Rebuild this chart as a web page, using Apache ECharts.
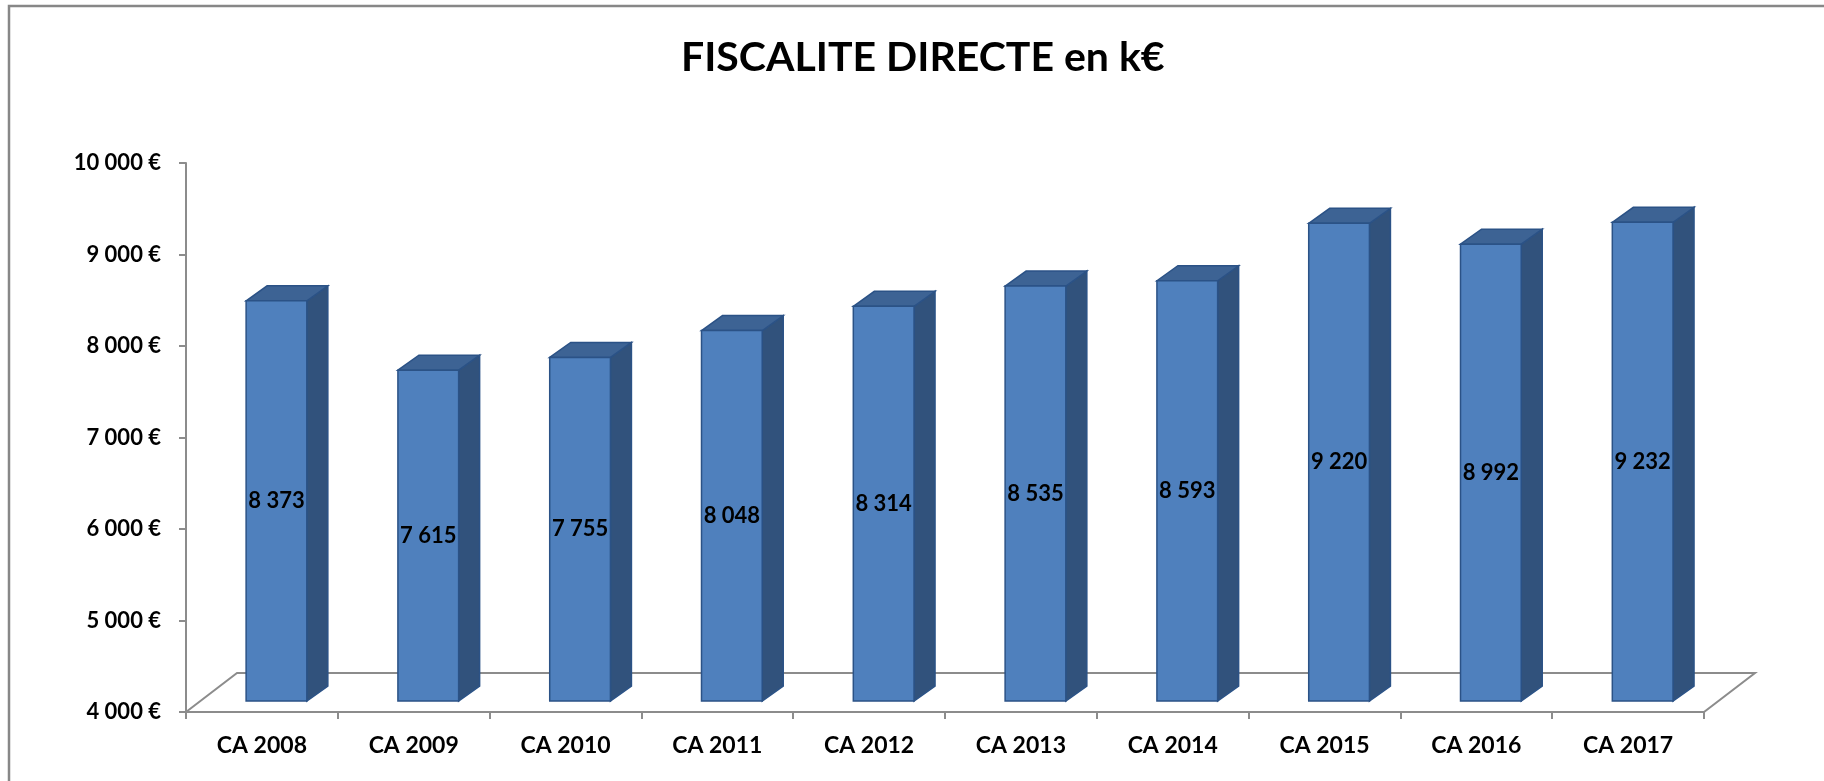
<!DOCTYPE html>
<html>
<head>
<meta charset="utf-8">
<script src="https://cdn.jsdelivr.net/npm/echarts@6/dist/echarts.min.js"></script>
<style>
  html, body { margin: 0; padding: 0; background: #fff; }
  #main { width: 1824px; height: 781px; }
</style>
</head>
<body>
<div id="main"></div>
<script>
var categories = ['CA 2008', 'CA 2009', 'CA 2010', 'CA 2011', 'CA 2012', 'CA 2013', 'CA 2014', 'CA 2015', 'CA 2016', 'CA 2017'];
var values = [8373, 7615, 7755, 8048, 8314, 8535, 8593, 9220, 8992, 9232];
var yMin = 4000, yMax = 10000, yStep = 1000;

function fmt(n){
	return String(n).replace(/\B(?=(\d{3})+(?!\d))/g, ' ');
}

var chart = echarts.init(document.getElementById('main'));
var font = 'Lato, "Open Sans", sans-serif';

// bars drawn as 3D boxes (front, top, side)
function renderBar(params, api){
	var i = api.value(0), v = api.value(1);
	var band = api.size([1, 0])[0];
	var top = api.coord([i, v]);
	var base = api.coord([i, yMin]);
	var lift = 11, w = band * 0.4, off = band * 0.096, dx = 21, dy = 15;
	var x0 = top[0] + off - w / 2, x1 = x0 + w;
	var yT = top[1] - lift, yB = base[1] - lift;
	var edge = '#2b5286';
	return {
		type: 'group',
		children: [
			{ type: 'polygon', shape: { points: [[x1, yT], [x1 + dx, yT - dy], [x1 + dx, yB - dy], [x1, yB]] },
				style: { fill: '#31527c', stroke: edge, lineWidth: 1.5 } },
			{ type: 'polygon', shape: { points: [[x0, yT], [x0 + dx, yT - dy], [x1 + dx, yT - dy], [x1, yT]] },
				style: { fill: '#3d6394', stroke: edge, lineWidth: 1.5 } },
			{ type: 'rect', shape: { x: x0, y: yT, width: w, height: yB - yT },
				style: { fill: '#4f80bd', stroke: edge, lineWidth: 1.5 } },
			{ type: 'text', x: (x0 + x1) / 2, y: (yT + yB) / 2,
				style: { text: fmt(v), fill: '#000', font: 'bold 22px ' + font, align: 'center', verticalAlign: 'middle' } }
		]
	};
}

// floor of the 3D plot
function renderFloor(params, api){
	var cs = params.coordSys;
	var bx = 51, by = 39;
	var yb = cs.y + cs.height;
	return {
		type: 'polygon',
		shape: { points: [[cs.x, yb], [cs.x + bx, yb - by], [cs.x + cs.width + bx, yb - by], [cs.x + cs.width, yb]] },
		style: { fill: '#fff', stroke: '#8c8c8c', lineWidth: 2 }
	};
}

var option = {
	animation: false,
	title: {
		text: 'FISCALITE DIRECTE en k€',
		left: 676,
		top: 32,
		textStyle: { fontFamily: font, fontSize: 41, fontWeight: 'bold', color: '#000' }
	},
	graphic: [
		{ type: 'rect', shape: { x: 9, y: 6, width: 1840, height: 800 }, style: { fill: 'none', stroke: '#878787', lineWidth: 2.5 }, silent: true }
	],
	grid: { left: 186, right: 120, top: 163, bottom: 69 },
	xAxis: {
		type: 'category',
		data: categories,
		axisLine: { lineStyle: { color: '#8c8c8c', width: 2 } },
		axisTick: { show: true, length: 7, lineStyle: { color: '#8c8c8c', width: 2 } },
		axisLabel: { margin: 22, color: '#000', fontFamily: font, fontSize: 23, fontWeight: 'bold' },
		z: 1
	},
	yAxis: {
		type: 'value',
		min: yMin, max: yMax, interval: yStep,
		axisLine: { show: true, lineStyle: { color: '#8c8c8c', width: 2 } },
		axisTick: { show: true, length: 7, lineStyle: { color: '#8c8c8c', width: 2 } },
		splitLine: { show: false },
		axisLabel: { margin: 25, color: '#000', fontFamily: font, fontSize: 22, fontWeight: 'bold',
			formatter: function(v){ return fmt(v) + ' €'; } }
	},
	series: [
		{ type: 'custom', renderItem: renderFloor, data: [[0, yMin]], z: 1, silent: true },
		{ type: 'custom', renderItem: renderBar, data: values.map(function(v, i){ return [i, v]; }), z: 5 }
	]
};
chart.setOption(option);
</script>
</body>
</html>
